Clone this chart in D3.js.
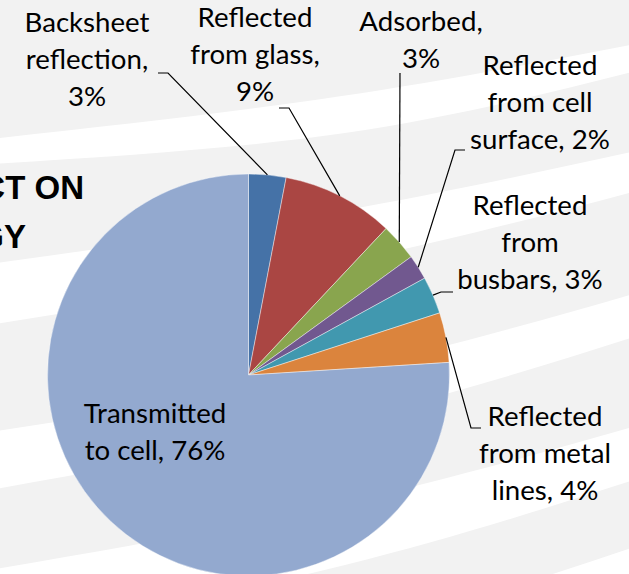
<!DOCTYPE html>
<html>
<head>
<meta charset="utf-8">
<script src="https://cdn.jsdelivr.net/npm/d3@7"></script>
<style>
  html, body { margin: 0; padding: 0; background: #fff; }
  svg { display: block; }
</style>
</head>
<body>
<svg id="chart"></svg>
<script>
// data
const categories = ["Backsheet reflection", "Reflected from glass", "Adsorbed",
    "Reflected from cell surface", "Reflected from busbars",
    "Reflected from metal lines", "Transmitted to cell"];
const values = [3, 9, 3, 2, 3, 4, 76];
const colors = ["#4572A7", "#AA4643", "#89A54E", "#71588F", "#4198AF", "#DB843D", "#93A9CF"];
const labelLines = [
    ["Backsheet", "reflection,", values[0] + "%"],
    ["Reflected", "from glass,", values[1] + "%"],
    ["Adsorbed,", values[2] + "%"],
    ["Reflected", "from cell", "surface, " + values[3] + "%"],
    ["Reflected", "from", "busbars, " + values[4] + "%"],
    ["Reflected", "from metal", "lines, " + values[5] + "%"],
    ["Transmitted", "to cell, " + values[6] + "%"]
];

// layout for the data labels (centre x, first baseline, leader elbow points)
const labelLayout = [
    { x: 87, y: 32, leader: [[168, 73], [158, 73]] },
    { x: 255, y: 27, leader: [[289, 108], [279, 108]] },
    { x: 421, y: 31, leader: [[400, 73]] },
    { x: 540, y: 75, leader: [[455, 150], [465, 150]] },
    { x: 530, y: 215, leader: [[441, 292], [453, 292]] },
    { x: 545, y: 426, leader: [[471, 428], [481, 428]] },
    { x: 155, y: 423, leader: null }
];

const width = 629, height = 574;
const cx = 248.5, cy = 375, radius = 201;
const lineStep = 36.8;

const svg = d3.select("#chart")
    .attr("width", width)
    .attr("height", height);

// slide background: light grey with soft white swooshes
svg.append("rect")
    .attr("width", width)
    .attr("height", height)
    .attr("fill", "#F2F2F2");

const stripes = [
    { top: [139, 97, 43], bottom: [164, 133, 70] },
    { top: [264, 212, 150], bottom: [325, 262, 190] },
    { top: [432, 372, 292], bottom: [490, 420, 335] },
    { top: [570, 505, 425], bottom: [640, 565, 478] },
    { top: [720, 640, 545], bottom: [790, 700, 600] }
];
const stripeX = [0, 340, 629];
const edge = d3.line().curve(d3.curveNatural);
stripes.forEach(s => {
    const top = stripeX.map((x, i) => [x - 5, s.top[i]]);
    const bot = stripeX.map((x, i) => [x + 5, s.bottom[i]]).reverse();
    top[2][0] = 640; bot[0][0] = 640; top[0][0] = -10; bot[2][0] = -10;
    svg.append("path")
        .attr("d", edge(top) + "L" + edge(bot).slice(1) + "Z")
        .attr("fill", "#FFFFFF");
});

// slide title, mostly off the left edge
const title = svg.append("g")
    .attr("font-family", "'Liberation Sans', Arial, sans-serif")
    .attr("font-weight", "bold")
    .attr("font-size", 33)
    .attr("fill", "#000")
    .attr("text-anchor", "end");
title.append("text").attr("x", 84).attr("y", 199).text("CT ON");
title.append("text").attr("x", 26).attr("y", 248).text("GY");

// pie
const pie = d3.pie().sort(null).value(d => d);
const arcs = pie(values);
const arc = d3.arc().innerRadius(0).outerRadius(radius);
const edgeArc = d3.arc().innerRadius(radius).outerRadius(radius);

const g = svg.append("g").attr("transform", `translate(${cx},${cy})`);

g.selectAll("path.slice")
    .data(arcs)
    .join("path")
    .attr("class", "slice")
    .attr("d", arc)
    .attr("fill", (d, i) => colors[i])
    .attr("stroke", "#ffffff")
    .attr("stroke-opacity", 0.6)
    .attr("stroke-width", 0.7);

// leader lines
const leaderLine = d3.line();
arcs.forEach((d, i) => {
    const lay = labelLayout[i];
    if (!lay.leader) return;
    const p = edgeArc.centroid(d);
    const pts = [[cx + p[0], cy + p[1]]].concat(lay.leader);
    svg.append("path")
        .attr("d", leaderLine(pts))
        .attr("fill", "none")
        .attr("stroke", "#000")
        .attr("stroke-width", 1.2);
});

// data labels
const fontFamily = "Lato, 'Open Sans', sans-serif";
// fit the font so that "Backsheet" is about 125px wide, as in the original
const probe = svg.append("text")
    .attr("font-family", fontFamily)
    .attr("font-size", 30)
    .text("Backsheet");
const probeW = probe.node().getComputedTextLength();
probe.remove();
const fontSize = probeW > 0 ? 30 * 125 / probeW : 28;

const labels = svg.append("g")
    .attr("font-family", fontFamily)
    .attr("font-size", fontSize)
    .attr("fill", "#000")
    .attr("text-anchor", "middle");

labelLines.forEach((lines, i) => {
    const lay = labelLayout[i];
    const t = labels.append("text")
        .attr("x", lay.x)
        .attr("y", lay.y);
    lines.forEach((ln, j) => {
        t.append("tspan")
            .attr("x", lay.x)
            .attr("y", lay.y + j * lineStep)
            .text(ln);
    });
});
</script>
</body>
</html>
